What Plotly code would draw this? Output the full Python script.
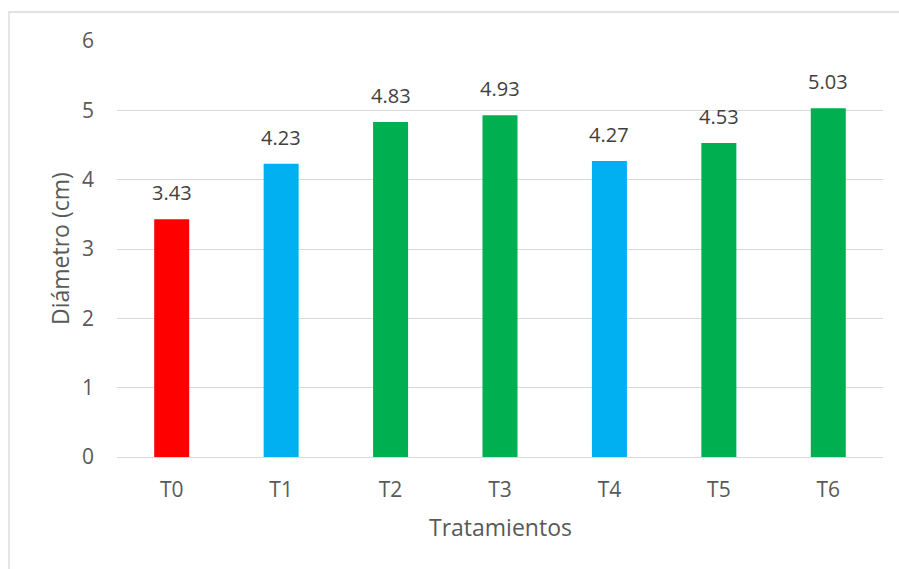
import plotly.graph_objects as go

# Treatment means for stem diameter
tratamientos = ["T0", "T1", "T2", "T3", "T4", "T5", "T6"]
diametro = [3.43, 4.23, 4.83, 4.93, 4.27, 4.53, 5.03]
colores = ["#FF0000", "#00B0F0", "#00B050", "#00B050", "#00B0F0", "#00B050", "#00B050"]
y_ticks = [0, 1, 2, 3, 4, 5, 6]

W, H = 899, 569
L, R, T, B = 117, 16, 41, 112
pw, ph = W - L - R, H - T - B

def px_x(x):
    return (x - L) / pw

def px_y(y):
    return (H - B - y) / ph

font_fam = "Open Sans, Liberation Sans, sans-serif"
gray = "#595959"

fig = go.Figure()
fig.add_trace(go.Bar(
    x=tratamientos,
    y=diametro,
    marker=dict(color=colores, line=dict(width=0)),
    width=0.32,
    hoverinfo="x+y",
))

annotations = []
for cat, val in zip(tratamientos, diametro):
    annotations.append(dict(
        x=cat, y=val, xref="x", yref="y",
        text=f"{val:.2f}", showarrow=False,
        xanchor="center", yanchor="bottom", yshift=11,
        font=dict(family=font_fam, size=20, color="#404040"),
    ))

annotations.append(dict(
    x=px_x(60), y=0.5, xref="paper", yref="paper",
    text="Diámetro (cm)", textangle=-90, showarrow=False,
    xanchor="center", yanchor="middle",
    font=dict(family=font_fam, size=23, color=gray),
))
annotations.append(dict(
    x=0.5, y=px_y(527), xref="paper", yref="paper",
    text="Tratamientos", showarrow=False,
    xanchor="center", yanchor="middle",
    font=dict(family=font_fam, size=23, color=gray),
))

fig.update_layout(
    width=W, height=H,
    margin=dict(l=L, r=R, t=T, b=B, pad=0),
    paper_bgcolor="white",
    plot_bgcolor="white",
    showlegend=False,
    annotations=annotations,
    shapes=[dict(
        type="rect", xref="paper", yref="paper",
        x0=px_x(9), x1=px_x(W + 10), y0=px_y(H + 10), y1=px_y(12),
        line=dict(color="#d9d9d9", width=1.3), fillcolor="rgba(0,0,0,0)",
        layer="below",
    )],
    xaxis=dict(
        range=[-0.5, 6.5],
        showgrid=False, zeroline=False, showline=False,
        ticks="", ticklabelstandoff=18,
        tickfont=dict(family=font_fam, size=21, color=gray),
        fixedrange=True,
    ),
    yaxis=dict(
        range=[0, 6],
        tickvals=y_ticks,
        showgrid=True, gridcolor="#d9d9d9", gridwidth=1.3,
        zeroline=True, zerolinecolor="#d9d9d9", zerolinewidth=1.3,
        showline=False, ticks="", ticklabelstandoff=22,
        tickfont=dict(family=font_fam, size=21, color=gray),
        fixedrange=True,
    ),
)

fig.write_html("out.html")
